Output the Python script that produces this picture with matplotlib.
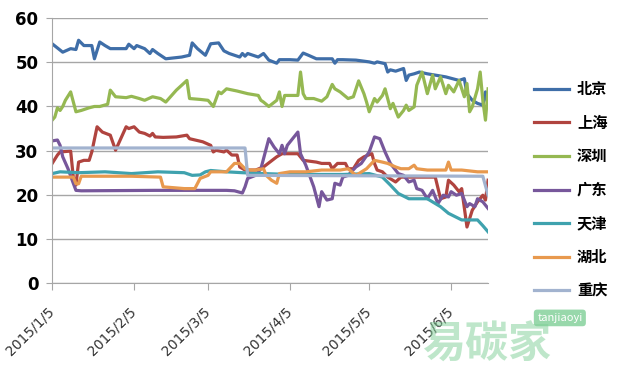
import numpy as np
import matplotlib
matplotlib.use('Agg')
import matplotlib.pyplot as plt
import matplotlib.dates as mdates

plt.rcParams['font.family'] = ['Noto Sans CJK SC', 'DejaVu Sans']

# day offsets from 2015/1/5 and prices
start = np.datetime64('2015-01-05')

bj_day = [0, 4, 7, 9, 10, 12, 15, 16, 18, 20, 22, 28, 29, 31, 32, 35, 37, 38, 40, 43, 49, 52, 53,
          55, 58, 60, 63, 65, 67, 71, 72, 73, 74, 78, 80, 82, 85, 86, 90, 93, 95, 97, 100, 106,
          107, 108, 110, 115, 120, 122, 123, 126, 127, 128, 130, 133, 134, 135, 137, 139, 142,
          145, 149, 154, 156, 157, 159, 161, 163, 164, 165]
bj_val = [54.2, 52.3, 53.1, 52.9, 55, 53.8, 53.8, 50.8, 54.6, 53.8, 53.1, 53.1, 54.1, 53.1, 53.8,
          53.1, 52, 52.9, 52, 50.8, 51.2, 51.6, 54.4, 53.1, 51.6, 54.2, 54.4, 52.6, 52, 51.2, 52,
          51.4, 52, 51.2, 52, 50.5, 49.8, 50.6, 50.6, 50.5, 52.1, 51.6, 50.8, 50.8, 49.8, 50.6,
          50.6, 50.5, 50.1, 49.8, 50.1, 49.7, 47.8, 48.3, 48, 48.6, 45.9, 47.1, 47.4, 47.8, 47.4,
          47.1, 46.7, 45.9, 46.3, 42.9, 41.4, 40.7, 40.3, 43.3, 40.3]

sh_day = [0, 2, 3, 7, 8, 9, 10, 12, 14, 15, 17, 19, 22, 24, 28, 29, 31, 33, 35, 37, 38, 39, 42,
          47, 51, 52, 57, 60, 61, 62, 65, 66, 68, 70, 71, 73, 77, 80, 85, 87, 93, 95, 100, 102,
          105, 106, 108, 111, 112, 114, 116, 118, 121, 122, 123, 125, 127, 130, 132, 145, 147,
          149, 150, 152, 154, 155, 157, 159, 161, 163, 164, 165]
sh_val = [27.1, 29, 29.7, 29.9, 24, 22.2, 27.4, 27.8, 27.8, 29.7, 35.4, 34.2, 33.5, 30.1, 35.4,
          35, 35.4, 34.2, 33.9, 33.3, 33.9, 33.1, 33, 33.1, 33.5, 32.7, 32, 31.2, 29.7, 30.1, 29.7,
          30.1, 29, 29, 26.3, 25.6, 25.6, 26.3, 28.6, 29.3, 29.3, 27.8, 27.4, 27.1, 27.1, 25.9,
          27.1, 27.1, 25.9, 25.9, 27.8, 28.6, 29.3, 27.1, 25.6, 25.2, 24, 22.9, 24, 24, 19.1,
          19.5, 23.3, 22.2, 20.7, 21.4, 12.7, 16.5, 18.4, 19.9, 18.8, 23.3]

sz_day = [0, 1, 2, 3, 4, 5, 7, 9, 11, 14, 16, 18, 21, 22, 24, 28, 30, 33, 35, 38, 41, 43, 47, 51,
          52, 56, 59, 61, 63, 64, 66, 70, 74, 78, 79, 80, 82, 85, 86, 87, 88, 93, 94, 95, 96, 99,
          102, 104, 106, 107, 109, 112, 114, 116, 118, 119, 120, 122, 123, 125, 126, 128, 129,
          131, 133, 134, 135, 137, 138, 140, 142, 144, 145, 147, 149, 150, 152, 154, 156, 157,
          158, 159, 161, 162, 163, 164, 165]
sz_val = [36.9, 37.6, 39.7, 39.1, 40, 41.4, 43.3, 38.8, 39.1, 39.7, 40, 40, 40.5, 43.7, 42.2, 42,
          42.3, 41.8, 41.4, 42.2, 41.8, 41, 43.7, 45.9, 41.8, 41.6, 41.4, 40, 43.3, 42.9, 44, 43.5,
          42.9, 42.5, 41.4, 41, 40, 41.4, 43.3, 40, 42.5, 42.5, 47.8, 42.9, 41.8, 41.8, 41.2, 42.2,
          45, 44, 43.3, 41.8, 42.2, 45.8, 42.9, 41, 38.8, 41.8, 41, 42.5, 44, 39.5, 40.7, 37.6,
          39.1, 40.3, 39.1, 39.9, 44.8, 47.8, 42.9, 47.1, 44, 46.7, 42.9, 44.8, 43.3, 45.9, 42.2,
          45.2, 38.8, 39.9, 44, 47.8, 41.4, 36.9, 44]

gd_day = [0, 2, 3, 4, 6, 8, 9, 11, 39, 66, 69, 72, 73, 74, 77, 79, 82, 84, 86, 87, 88, 89, 93, 94,
          96, 99, 101, 102, 104, 106, 107, 109, 110, 112, 115, 117, 120, 122, 124, 126, 128, 131,
          133, 135, 137, 138, 140, 142, 144, 146, 148, 150, 151, 153, 155, 157, 158, 160, 161,
          163, 165]
gd_val = [32.2, 32.4, 31.2, 28.6, 25.9, 22.6, 21, 20.9, 21, 21, 20.9, 20.4, 21.8, 23.7, 24.4, 25.9,
          32.7, 30.8, 29.3, 31.2, 29.3, 31.2, 34.2, 29.3, 26.7, 21.8, 17.3, 20.7, 18.8, 19.1, 22.6,
          22.2, 24, 24.4, 26.3, 27.1, 29.7, 33.1, 32.7, 29.7, 27.1, 24.8, 24.4, 22.9, 23.3, 21.4,
          21, 19.1, 21, 18, 19.9, 19.5, 20.7, 19.9, 20.3, 17.3, 18, 17.3, 19.1, 18.4, 16.9]

tj_day = [0, 3, 10, 20, 30, 40, 50, 53, 56, 58, 60, 66, 72, 80, 90, 100, 110, 120, 125, 128,
          131, 135, 142, 147, 150, 155, 161, 163, 165]
tj_val = [24.8, 25.2, 25, 25.2, 24.8, 25.2, 25, 24.4, 24.5, 25.2, 25.5, 25.2, 25, 24.8, 24.6,
          24.6, 24.6, 24.8, 24, 22.2, 20.3, 19.1, 19.1, 17.3, 15.8, 14.3, 14.3, 13, 11.6]

hb_day = [0, 8, 9, 10, 11, 30, 41, 42, 50, 54, 56, 59, 60, 66, 69, 71, 73, 75, 77, 80, 81, 83, 85,
          86, 90, 96, 102, 109, 112, 115, 119, 122, 125, 127, 130, 132, 135, 137, 138, 142, 149,
          150, 151, 155, 161, 165]
hb_val = [24, 24, 22.5, 22.5, 24.2, 24.2, 24, 21.8, 21.4, 21.4, 23.7, 24.4, 25.2, 25.2, 27.1, 27.1,
          25.9, 25.6, 25.6, 25.9, 24.4, 23.3, 22.6, 24.8, 25.2, 25.2, 25.6, 25.6, 25.9, 24.4, 25.9,
          27.8, 27.4, 27.1, 26.3, 25.9, 25.9, 26.7, 25.9, 25.6, 25.6, 27.4, 25.6, 25.6, 25.2, 25.2]

cq_day = [0, 73, 74, 163, 165]
cq_val = [30.6, 30.6, 24.4, 24.2, 19.9]

names = ['北京', '上海', '深圳', '广东', '天津', '湖北', '重庆']
colors = ['#3f6ea8', '#b0443f', '#95b852', '#77579b', '#3fa2ae', '#e8994e', '#a2b3cf']
series = [(bj_day, bj_val), (sh_day, sh_val), (sz_day, sz_val), (gd_day, gd_val),
          (tj_day, tj_val), (hb_day, hb_val), (cq_day, cq_val)]

tick_labels = ['2015/1/5', '2015/2/5', '2015/3/5', '2015/4/5', '2015/5/5', '2015/6/5']
tick_dates = [np.datetime64('2015-%02d-05' % m) for m in range(1, 7)]

fig = plt.figure(figsize=(6.21, 3.71), dpi=100)
ax = fig.add_axes([0.084, 0.237, 0.702, 0.714])

for (d, v), name, c in zip(series, names, colors):
    x = start + np.array(d, dtype='timedelta64[D]')
    ax.plot(x, v, color=c, lw=2.3, label=name, solid_joinstyle='round')

ax.set_ylim(0, 60)
ax.set_yticks(range(0, 61, 10))
ax.set_xlim(start, start + np.timedelta64(165, 'D'))
ax.set_xticks(tick_dates)
ax.set_xticklabels(tick_labels, rotation=45, ha='right', va='center',
                   rotation_mode='anchor', fontsize=10, family='DejaVu Sans', color='#333333')
for lab in ax.get_yticklabels():
    lab.set_fontweight('bold')
    lab.set_fontsize(12)
    lab.set_family('DejaVu Sans')

ax.grid(axis='y', color='#a6a6a6', lw=1)
ax.set_axisbelow(True)
for s in ['top', 'right']:
    ax.spines[s].set_visible(False)
ax.spines['left'].set_color('#a6a6a6')
ax.spines['bottom'].set_color('#a6a6a6')
ax.tick_params(axis='y', length=4, color='#a6a6a6', pad=6)
ax.tick_params(axis='x', length=5, color='#a6a6a6', pad=14)

fig.legend(loc='center left', bbox_to_anchor=(0.848, 0.488), frameon=False,
           borderpad=0, handlelength=2.3, handletextpad=0.5, labelspacing=1.15,
           prop={'family': 'Noto Sans CJK SC', 'weight': 'bold', 'size': 11})

# watermark
fig.text(0.68, 0.035, '易碳家', fontsize=31, color='#7fcf96', alpha=0.5,
         family='Noto Sans CJK SC', weight='bold')
fig.text(0.865, 0.135, 'tanjiaoyi', fontsize=8, color='white',
         bbox=dict(boxstyle='round,pad=0.3', fc='#7fcf96', ec='none', alpha=0.8))

fig.savefig('out.png', dpi=100)
